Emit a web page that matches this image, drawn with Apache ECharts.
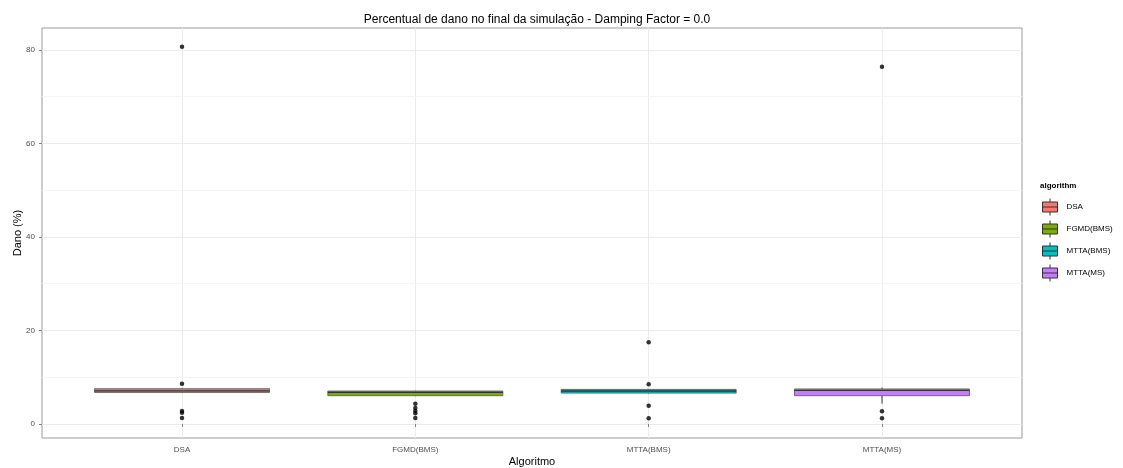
<!DOCTYPE html>
<html>
<head>
<meta charset="utf-8">
<script src="https://cdn.jsdelivr.net/npm/echarts@6/dist/echarts.min.js"></script>
<style>html,body{margin:0;padding:0;background:#fff}#c{width:1123px;height:468px}</style>
</head>
<body>
<div id="c"></div>
<script>
const categories = ['DSA', 'FGMD(BMS)', 'MTTA(BMS)', 'MTTA(MS)'];
const colors = ['#F8766D', '#7CAE00', '#00BFC4', '#C77CFF'];
// [lower whisker, Q1, median, Q3, upper whisker]
const boxDSA = [6.6, 6.75, 7.1, 7.55, 7.7];
const boxFGMD = [5.95, 6.05, 6.75, 7.05, 7.1];
const boxMTTABMS = [6.5, 6.6, 7.05, 7.4, 7.5];
const boxMTTAMS = [4.35, 6.05, 7.2, 7.5, 7.8];
const outDSA = [80.7, 8.6, 2.8, 2.4, 1.3];
const outFGMD = [4.3, 3.4, 2.8, 2.3, 1.3];
const outMTTABMS = [17.5, 8.5, 3.9, 1.2];
const outMTTAMS = [76.4, 2.7, 1.2];
const yTicks = [0, 20, 40, 60, 80];
const yMinor = [10, 30, 50, 70];

const boxes = [boxDSA, boxFGMD, boxMTTABMS, boxMTTAMS];
const outliers = [outDSA, outFGMD, outMTTABMS, outMTTAMS];

const chart = echarts.init(document.getElementById('c'), null, {renderer: 'canvas'});

function renderBox(params, api) {
  const x = api.value(0);
  const lo = api.value(1), q1 = api.value(2), med = api.value(3), q3 = api.value(4), hi = api.value(5);
  const w = api.size([0.75, 0])[0];
  const pLo = api.coord([x, lo]), pQ1 = api.coord([x, q1]), pMed = api.coord([x, med]);
  const pQ3 = api.coord([x, q3]), pHi = api.coord([x, hi]);
  const cx = pLo[0];
  const stroke = '#333333';
  return {
    type: 'group',
    children: [
      {type: 'line', shape: {x1: cx, y1: pHi[1], x2: cx, y2: pQ3[1]}, style: {stroke: stroke, lineWidth: 1}},
      {type: 'line', shape: {x1: cx, y1: pQ1[1], x2: cx, y2: pLo[1]}, style: {stroke: stroke, lineWidth: 1}},
      {type: 'rect', shape: {x: cx - w / 2, y: pQ3[1], width: w, height: pQ1[1] - pQ3[1]},
        style: {fill: api.visual('color'), stroke: '#555555', lineWidth: 0.8}},
      {type: 'line', shape: {x1: cx - w / 2, y1: pMed[1], x2: cx + w / 2, y2: pMed[1]}, style: {stroke: stroke, lineWidth: 1.3}}
    ]
  };
}

const series = [];
categories.forEach(function (c, i) {
  series.push({
    name: c,
    type: 'custom',
    renderItem: renderBox,
    itemStyle: {color: colors[i], borderColor: '#333', borderWidth: 1},
    encode: {x: 0, y: [1, 2, 3, 4, 5]},
    data: [[i + 1].concat(boxes[i])],
    z: 3
  });
});
series.push({
  name: 'outliers',
  type: 'scatter',
  symbolSize: 4.5,
  itemStyle: {color: '#000'},
  data: outliers.flatMap(function (arr, i) { return arr.map(function (v) { return [i + 1, v]; }); }),
  z: 4,
  silent: true
});
series.push({
  name: 'minorgrid',
  type: 'line',
  data: [],
  silent: true,
  markLine: {
    silent: true,
    symbol: 'none',
    label: {show: false},
    lineStyle: {color: '#f5f5f5', width: 1, type: 'solid'},
    data: yMinor.map(function (v) { return {yAxis: v}; })
  },
  z: 0
});

chart.setOption({
  animation: false,
  backgroundColor: '#ffffff',
  title: {
    text: 'Percentual de dano no final da simulação - Damping Factor = 0.0',
    left: 532, top: 9, textAlign: 'center',
    textStyle: {fontFamily: 'Liberation Sans, Arial, sans-serif', fontSize: 12, fontWeight: 'normal', color: '#000'}
  },
  legend: {
    orient: 'vertical',
    left: 1042, top: 198, padding: 0,
    itemWidth: 17, itemHeight: 17, itemGap: 4,
    icon: 'path://M1,3.5 H16 V13.5 H1 Z M8.5,0 V3.5 M8.5,13.5 V17 M1,8.5 H16',
    data: categories,
    textStyle: {fontFamily: 'Liberation Sans, Arial, sans-serif', fontSize: 8, color: '#000', padding: [0, 0, 0, 3]},
    itemStyle: {borderColor: '#333', borderWidth: 1},
    selectedMode: false
  },
  graphic: [
    {type: 'text', left: 1040, top: 182,
      style: {text: 'algorithm', font: 'bold 8px Liberation Sans, Arial, sans-serif', fill: '#000'}}
  ],
  grid: {left: 42, top: 28, width: 980, height: 410, outerBoundsMode: 'none', containLabel: false,
    show: true, borderColor: '#9a9a9a', borderWidth: 1, backgroundColor: '#fff'},
  xAxis: {
    type: 'value',
    min: 0.4, max: 4.6,
    name: 'Algoritmo', nameLocation: 'middle', nameGap: 18, nameMoveOverlap: false,
    nameTextStyle: {fontFamily: 'Liberation Sans, Arial, sans-serif', fontSize: 11, color: '#000'},
    axisLine: {show: false},
    axisTick: {show: true, length: 3, lineStyle: {color: '#7f7f7f'}, customValues: [1, 2, 3, 4]},
    axisLabel: {
      customValues: [1, 2, 3, 4],
      formatter: function (v) { return categories[Math.round(v) - 1]; },
      fontFamily: 'Liberation Sans, Arial, sans-serif', fontSize: 8, color: '#4d4d4d', margin: 8
    },
    splitLine: {show: true, lineStyle: {color: '#ececec', width: 1}}
  },
  yAxis: {
    type: 'value',
    min: -3.0, max: 84.7,
    name: 'Dano (%)', nameLocation: 'middle', nameGap: 19, nameRotate: 90, nameMoveOverlap: false,
    nameTextStyle: {fontFamily: 'Liberation Sans, Arial, sans-serif', fontSize: 11, color: '#000'},
    axisLine: {show: false},
    axisTick: {show: true, length: 3, lineStyle: {color: '#7f7f7f'}, customValues: yTicks},
    axisLabel: {
      customValues: yTicks,
      fontFamily: 'Liberation Sans, Arial, sans-serif', fontSize: 8, color: '#4d4d4d', margin: 7
    },
    splitLine: {show: true, lineStyle: {color: '#ececec', width: 1}}
  },
  series: series
});
</script>
</body>
</html>
